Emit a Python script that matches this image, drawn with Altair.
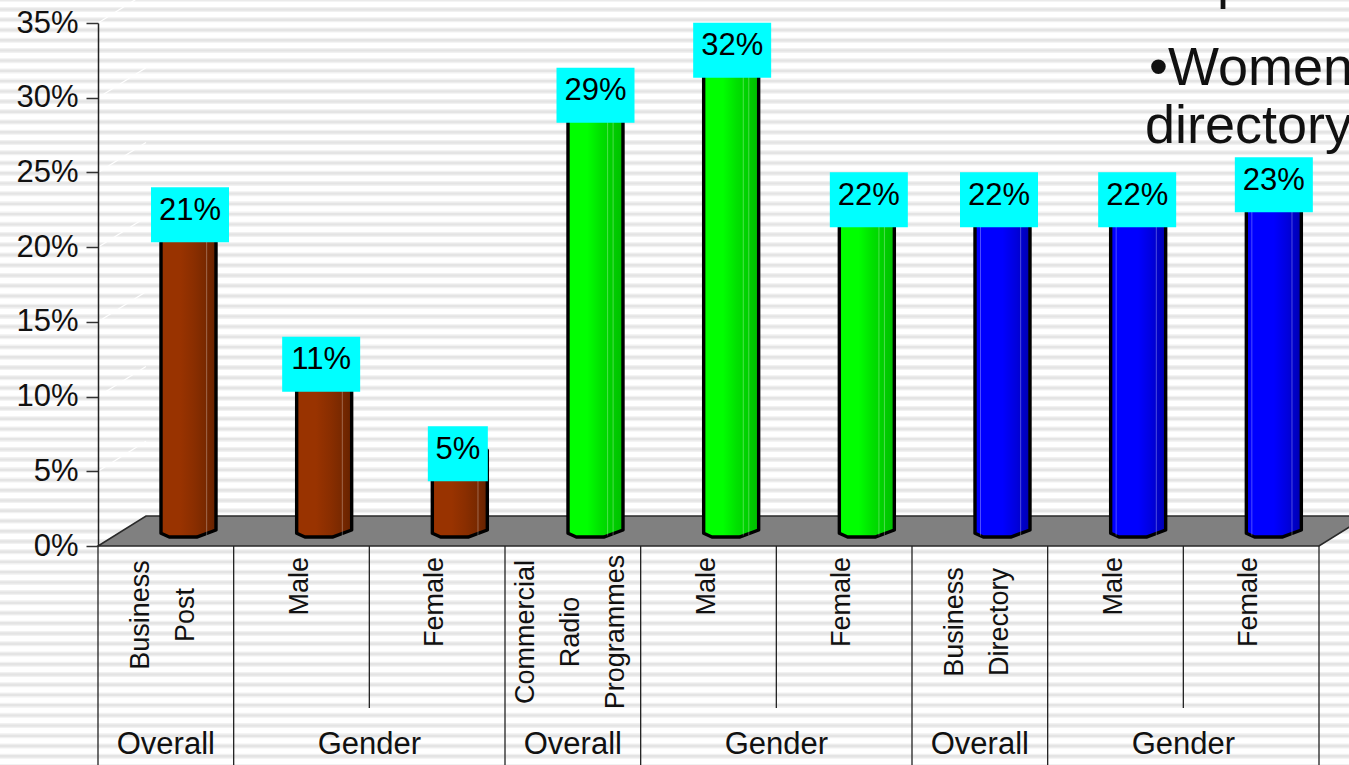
import altair as alt
import pandas as pd

# Chart values
categories = ["Business Post", "Male", "Female", "Commercial Radio Programmes", "Male", "Female",
              "Business Directory", "Male", "Female"]
category_lines = [["Business", "Post"], ["Male"], ["Female"],
                  ["Commercial", "Radio", "Programmes"], ["Male"], ["Female"],
                  ["Business", "Directory"], ["Male"], ["Female"]]
values = [21, 11, 5, 29, 32, 22, 22, 22, 23]
series = ["brown", "brown", "brown", "green", "green", "green", "blue", "blue", "blue"]
groups = ["Overall", "Gender", "Overall", "Gender", "Overall", "Gender"]
group_spans = [1, 2, 1, 2, 1, 2]
y_ticks = [0, 5, 10, 15, 20, 25, 30, 35]

# Layout of the drawing area and of the 3-D look
FONT = "Liberation Sans"
LEFT, TOP, W, H = 98, 23, 1221, 523
SLOT = W / 9
PCT = H / 35
DEPTH_X, DEPTH_Y = 48 / SLOT, 30 / PCT
BOX_NUDGE = [1.5, -3, -2, 0, 1, 2, -3.5, -1, 0]


def px_y(py):
    return (TOP + H - py) / PCT


def px_x(px):
    return (px - LEFT) / SLOT


# Every layer shares one value axis, so the layers merge it into a single drawn axis
value_axis = alt.Axis(values=y_ticks, labelExpr="datum.value + '%'", title=None, grid=False,
                      tickSize=12, tickWidth=1.5, tickColor="#333333", domainColor="#222222",
                      domainWidth=1.5, labelFont=FONT, labelFontSize=31, labelColor="#111111",
                      labelPadding=8, zindex=1)

X = lambda f="x": alt.X(f"{f}:Q", scale=alt.Scale(domain=[0, 9], nice=False, zero=False), axis=None)
Y = lambda f="y": alt.Y(f"{f}:Q", scale=alt.Scale(domain=[0, 35], nice=False, zero=False),
                        axis=value_axis)

# Horizontal striped page texture across the whole page
stripe_df = pd.DataFrame({"y": [px_y(9.5 + 10.23 * k) for k in range(-1, 75)]})
page_x = {"x": alt.value(-LEFT), "x2": alt.value(1349 - LEFT)}
stripes_soft = alt.Chart(stripe_df).mark_rule(color="#F1F1F1", size=5).encode(y=Y(), **page_x)
stripes_core = alt.Chart(stripe_df).mark_rule(color="#E4E4E4", size=2.4).encode(y=Y(), **page_x)

# White wall lines receding from each tick
wall_df = pd.DataFrame({"y": y_ticks, "y2": [v + DEPTH_Y for v in y_ticks],
                        "x": [0] * len(y_ticks), "x2": [DEPTH_X] * len(y_ticks)})
wall = alt.Chart(wall_df).mark_rule(color="white", strokeWidth=1.2).encode(
    x=X(), x2="x2:Q", y=Y(), y2="y2:Q")

# Grey floor parallelogram
floor_df = pd.DataFrame({"x": [0, DEPTH_X, 9, 9 + DEPTH_X], "y": [0, 0, 0, DEPTH_Y],
                         "y2": [0, DEPTH_Y, DEPTH_Y, DEPTH_Y]})
floor = alt.Chart(floor_df).mark_area(color="#808080", stroke="#2A2A2A", strokeWidth=1.6,
                                      interpolate="linear").encode(x=X(), y=Y(), y2="y2:Q")

# Category separators under the floor
row1_bottom, row2_bottom = px_y(708), px_y(790)
edges, e = [], 0
for span in group_spans:
    edges.append(e)
    e += span
edges.append(e)
sep_rows = [{"x": i, "y": 0, "y2": row2_bottom if i in edges else row1_bottom} for i in range(10)]
separators = alt.Chart(pd.DataFrame(sep_rows)).mark_rule(color="#222222", strokeWidth=1.3).encode(
    x=X(), y=Y(), y2="y2:Q")

# Cylinder-like bars: a chamfered base and a raised back edge
BAR_LEFT, BAR_W = 63 / SLOT, 55 / SLOT
profile_frac = [0, 0.15, 0.65, 1]
profile_base = [0.85, 0.6, 0.6, 1.07]
profile_top = [0.6, 0.6, 0.6, 1.4]
shades = {
    "brown": [("#993300", 0), ("#993300", 0.35), ("#8A2E00", 0.6), ("#7A2900", 0.8), ("#662200", 1)],
    "green": [("#00FF00", 0), ("#00FF00", 0.35), ("#00E000", 0.6), ("#00CC00", 0.85), ("#00C000", 1)],
    "blue": [("#0000FF", 0), ("#0000FF", 0.5), ("#0000DD", 0.75), ("#0000B0", 1)],
}
highlight_fracs = {"brown": [0.83], "green": [0.72, 0.82], "blue": [0.1, 0.83]}

bar_rows, glint_rows = [], []
for i, (v, s) in enumerate(zip(values, series)):
    for f, b, t in zip(profile_frac, profile_base, profile_top):
        bar_rows.append({"bar": i, "series": s, "x": i + BAR_LEFT + f * BAR_W, "y": v + t, "y2": b})
    for f in highlight_fracs[s]:
        glint_rows.append({"x": i + BAR_LEFT + f * BAR_W, "y": v + 0.6, "y2": 0.7})
bars_df = pd.DataFrame(bar_rows)

bar_layers = []
for name, stops in shades.items():
    grad = alt.LinearGradient(gradient="linear", x1=0, x2=1, y1=0, y2=0,
                              stops=[alt.GradientStop(color=c, offset=o) for c, o in stops])
    bar_layers.append(
        alt.Chart(bars_df[bars_df.series == name]).mark_area(
            color=grad, stroke="black", strokeWidth=3.4, interpolate="linear", strokeJoin="round"
        ).encode(x=X(), y=Y(), y2="y2:Q", detail="bar:N")
    )
glints = alt.Chart(pd.DataFrame(glint_rows)).mark_rule(color="white", opacity=0.3, strokeWidth=1).encode(
    x=X(), y=Y(), y2="y2:Q")

# Cyan value boxes above the bars
label_rows = []
for i, v in enumerate(values):
    centre = i + BAR_LEFT + BAR_W / 2 + BOX_NUDGE[i] / SLOT
    half = (39 if v >= 10 else 30) / SLOT
    label_rows.append({"x": centre - half, "x2": centre + half, "xc": centre,
                       "y": v + 1.17 + 27.5 / PCT, "y2": v + 1.17 - 27.5 / PCT,
                       "yt": v + 1.17 + 4 / PCT, "label": f"{v}%"})
labels_df = pd.DataFrame(label_rows)
boxes = alt.Chart(labels_df).mark_rect(color="#00FFFF").encode(x=X(), x2="x2:Q", y=Y(), y2="y2:Q")
box_text = alt.Chart(labels_df).mark_text(font=FONT, fontSize=31, color="black").encode(
    x=X("xc"), y=Y("yt"), text="label:N")

# Rotated category labels
LINE_GAP = 45
single_rows, multi_rows = [], []
block_centres = {0: 615, 3: 632, 6: 622}
for i, lines in enumerate(category_lines):
    for j, line in enumerate(lines):
        xc = i + 0.5 + (-2 + (j - (len(lines) - 1) / 2) * LINE_GAP) / SLOT
        if len(lines) == 1:
            single_rows.append({"x": xc, "y": px_y(557), "text": line})
        else:
            multi_rows.append({"x": xc, "y": px_y(block_centres[i]), "text": line})
cat_single = alt.Chart(pd.DataFrame(single_rows)).mark_text(
    font=FONT, fontSize=27, angle=270, align="right", baseline="middle", color="#111111"
).encode(x=X(), y=Y(), text="text:N")
cat_multi = alt.Chart(pd.DataFrame(multi_rows)).mark_text(
    font=FONT, fontSize=27, angle=270, align="center", baseline="middle", color="#111111"
).encode(x=X(), y=Y(), text="text:N")

# Group labels along the bottom
group_rows = []
for name, start, span in zip(groups, edges[:-1], group_spans):
    group_rows.append({"x": start + span / 2, "y": px_y(745), "text": name})
group_text = alt.Chart(pd.DataFrame(group_rows)).mark_text(
    font=FONT, fontSize=31, color="#111111", baseline="middle"
).encode(x=X(), y=Y(), text="text:N")

# Slide text running off the top right corner
slide_rows = [
    {"text": "p", "px": 1217, "py": -2},
    {"text": "\u2022Women", "px": 1149, "py": 85},
    {"text": "directory", "px": 1145, "py": 143},
]
slide_df = pd.DataFrame([{"text": r["text"], "x": px_x(r["px"]), "y": px_y(r["py"])} for r in slide_rows])
slide_text = alt.Chart(slide_df).mark_text(
    font=FONT, fontSize=54, color="#111111", align="left", baseline="alphabetic"
).encode(x=X(), y=Y(), text="text:N")

chart = alt.layer(
    stripes_soft, stripes_core, wall, floor, separators,
    *bar_layers, glints, boxes, box_text, cat_single, cat_multi, group_text, slide_text,
).properties(
    width=W, height=H,
    padding={"left": LEFT, "top": TOP, "right": 1349 - LEFT - W, "bottom": 765 - TOP - H},
    autosize=alt.AutoSizeParams(type="none"),
    background="white",
).configure_view(stroke=None)

chart.save("out.html", embed_options={"renderer": "svg", "actions": False})
